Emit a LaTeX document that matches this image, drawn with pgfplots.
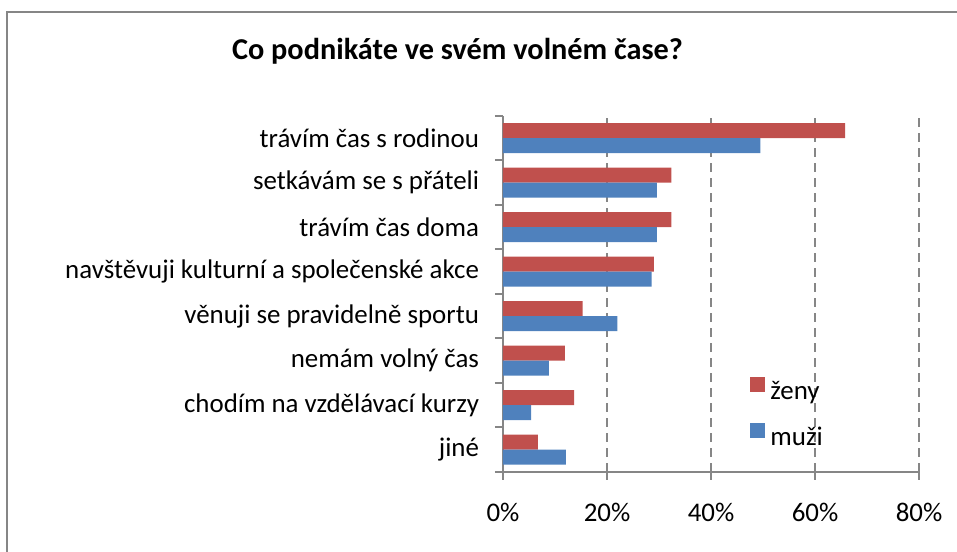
\documentclass[border=0pt]{standalone}
\usepackage{pgfplots}
\pgfplotsset{compat=1.18}
\usepackage{fontspec}
\setmainfont{Carlito}
\definecolor{zeny}{HTML}{C0504D}
\definecolor{muzi}{HTML}{4F81BD}
\definecolor{axgray}{HTML}{868686}
\begin{document}
\begin{tikzpicture}
\begin{scope}[x=0.5bp,y=-0.5bp]
\useasboundingbox (0,0) rectangle (957,552);
\draw[axgray, line width=1bp] (7,570) -- (7,12) -- (970,12);
\node[anchor=base, inner sep=0pt, font=\fontsize{15.2}{18}\selectfont\bfseries] at (457.5,60) {Co podnikáte ve svém volném čase?};
\coordinate (O) at (503,116);
\end{scope}
\begin{axis}[at={(O)}, anchor=north west, scale only axis,
  width=208bp, height=178bp,
  xbar, bar width=7.5bp,
  xmin=0, xmax=80, ymin=-0.5, ymax=7.5,
  axis x line=bottom, axis y line=left,
  axis line style={-, axgray, line width=1bp},
  xtick={0,20,40,60,80},
  xticklabels={0\%,20\%,40\%,60\%,80\%},
  xmajorgrids,
  grid style={axgray, dash pattern=on 4.5bp off 3bp, line width=1bp},
  ytick={0,...,7},
  yticklabels={jiné,chodím na vzdělávací kurzy,nemám volný čas,věnuji se pravidelně sportu,navštěvuji kulturní a společenské akce,trávím čas doma,setkávám se s přáteli,trávím čas s rodinou},
  minor ytick={-0.5,0.5,...,7.5},
  tick align=outside,
  tick style={axgray, line width=1bp},
  major tick length=4bp, minor tick length=4bp,
  major y tick style={draw=none},
  ticklabel style={font=\fontsize{13.5}{16}\selectfont, text=black},
  yticklabel style={xshift=-4.5bp},
  xticklabel style={yshift=-8bp},
  legend entries={ženy, muži},
  legend cell align=left,
  legend image code/.code={\fill[#1] (0bp,0bp) rectangle (7.5bp,7.5bp);},
  legend style={at={(axis cs:47.5,0.78)}, anchor=west, draw=none, fill=none,
    inner xsep=0pt, font=\fontsize{13.5}{16}\selectfont, row sep=8bp,
    nodes={inner xsep=2.5bp}},
]
\addplot[draw=none, fill=zeny, bar shift=3.75bp] coordinates {
 (6.7,0) (13.7,1) (11.9,2) (15.3,3) (29.0,4) (32.4,5) (32.4,6) (65.8,7)};
\addplot[draw=none, fill=muzi, bar shift=-3.75bp] coordinates {
 (12.1,0) (5.4,1) (8.8,2) (22.0,3) (28.6,4) (29.6,5) (29.6,6) (49.5,7)};
\end{axis}
\end{tikzpicture}
\end{document}
